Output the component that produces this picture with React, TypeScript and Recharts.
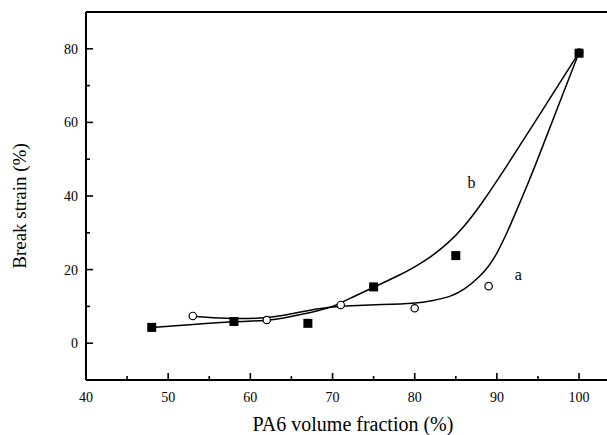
import React from 'react';
import { ComposedChart, Line, Scatter, XAxis, YAxis, ReferenceLine, Label } from 'recharts';

// measured points, series a (open circles) and b (filled squares)
const pa6A = [53, 62, 71, 80, 89, 100];
const strainA = [7.4, 6.3, 10.4, 9.5, 15.5, 79];
const pa6B = [48, 58, 67, 75, 85, 100];
const strainB = [4.3, 5.9, 5.4, 15.3, 23.8, 78.8];

// fitted curves
const curveAX = [53, 55.5, 58, 62, 64, 66.4, 68, 70, 72, 76, 80, 82.3, 84.3, 86, 88, 89, 90, 91.2, 92.4, 93.6, 94.8, 96, 98, 100];
const curveAY = [7.3, 6.9, 6.6, 6.8, 7.5, 8.6, 9.3, 9.9, 10.2, 10.5, 10.8, 11.6, 12.6, 14.4, 18.3, 20.8, 24.3, 29.8, 36.1, 42.4, 49.0, 56, 67.5, 79];
const curveBX = [48, 53, 58, 62, 64, 66.4, 68, 70, 72.5, 75, 78, 80, 82, 84, 86, 88, 91, 95.2, 100];
const curveBY = [4.3, 5.1, 5.9, 6.1, 6.8, 7.9, 8.7, 9.8, 12.6, 15.2, 18.3, 20.7, 23.5, 27.0, 31.6, 37.4, 47.4, 62.1, 79];

// curve tags
const tagText = ['a', 'b'];
const tagX = [92.6, 86.9];
const tagY = [18.5, 43.5];

const xTicks = [40, 45, 50, 55, 60, 65, 70, 75, 80, 85, 90, 95, 100];
const yTicks = [0, 10, 20, 30, 40, 50, 60, 70, 80];

const W = 607;
const H = 435;
const Y_AXIS_W = 86;
const X_AXIS_H = 55;
const TOP = 12;
const PLOT_LEFT = Y_AXIS_W;
const PLOT_BOTTOM = H - X_AXIS_H;
const FONT = '"Liberation Serif", "Times New Roman", serif';

const zip = (xs: number[], ys: number[]) => xs.map((x, i) => ({ x, y: ys[i] }));
const pointsA = zip(pa6A, strainA);
const pointsB = zip(pa6B, strainB);
const lineA = zip(curveAX, curveAY);
const lineB = zip(curveBX, curveBY);
const tags = tagText.map((t, i) => ({ x: tagX[i], y: tagY[i], t }));

function XTick({ x, payload }: any) {
  const major = payload.value % 10 === 0;
  return (
    <g>
      <line x1={x} x2={x} y1={PLOT_BOTTOM} y2={PLOT_BOTTOM - (major ? 7 : 4)} stroke="#000" strokeWidth={1.6} />
      {major && (
        <text x={x} y={PLOT_BOTTOM + 22} textAnchor="middle" fontSize={14} fontFamily={FONT} fill="#000">
          {payload.value}
        </text>
      )}
    </g>
  );
}

function YTick({ y, payload }: any) {
  const major = payload.value % 20 === 0;
  return (
    <g>
      <line x1={PLOT_LEFT} x2={PLOT_LEFT + (major ? 7 : 4)} y1={y} y2={y} stroke="#000" strokeWidth={1.6} />
      {major && (
        <text x={PLOT_LEFT - 8} y={y + 5} textAnchor="end" fontSize={14} fontFamily={FONT} fill="#000">
          {payload.value}
        </text>
      )}
    </g>
  );
}

const square = (p: any) => <rect x={p.cx - 4.5} y={p.cy - 4.5} width={9} height={9} fill="#000" />;
const circle = (p: any) => <circle cx={p.cx} cy={p.cy} r={3.7} fill="#fff" stroke="#000" strokeWidth={1.2} />;
const tagShape = (p: any) => (
  <text x={p.cx} y={p.cy + 5} textAnchor="middle" fontSize={16} fontFamily={FONT} fill="#000">
    {p.payload.t}
  </text>
);

export default function App() {
  return (
    <div style={{ position: 'absolute', left: 0, top: 0, background: '#fff' }}>
      <ComposedChart width={W} height={H} margin={{ top: TOP, right: 0, left: 0, bottom: 0 }}>
        <XAxis
          type="number"
          dataKey="x"
          domain={[40, 103.4]}
          ticks={xTicks}
          interval={0}
          allowDataOverflow
          height={X_AXIS_H}
          axisLine={{ stroke: '#000', strokeWidth: 2 }}
          tickLine={false}
          tickSize={0}
          tick={<XTick />}
        >
          <Label
            content={() => (
              <text x={353} y={431} textAnchor="middle" fontSize={20} fontFamily={FONT} fill="#000">
                PA6 volume fraction (%)
              </text>
            )}
          />
        </XAxis>
        <YAxis
          type="number"
          dataKey="y"
          domain={[-10, 90]}
          ticks={yTicks}
          interval={0}
          allowDataOverflow
          width={Y_AXIS_W}
          axisLine={{ stroke: '#000', strokeWidth: 2 }}
          tickLine={false}
          tickSize={0}
          tick={<YTick />}
        >
          <Label
            content={() => (
              <text
                x={26}
                y={206}
                transform="rotate(-90, 26, 206)"
                textAnchor="middle"
                fontSize={19}
                fontFamily={FONT}
                fill="#000"
              >
                Break strain (%)
              </text>
            )}
          />
        </YAxis>
        <ReferenceLine y={90} stroke="#000" strokeWidth={2} />
        <Line data={lineA} dataKey="y" type="basis" stroke="#000" strokeWidth={1.5} dot={false} isAnimationActive={false} />
        <Line data={lineB} dataKey="y" type="basis" stroke="#000" strokeWidth={1.5} dot={false} isAnimationActive={false} />
        <Scatter data={pointsA} dataKey="y" shape={circle} isAnimationActive={false} />
        <Scatter data={pointsB} dataKey="y" shape={square} isAnimationActive={false} />
        <Scatter data={tags} dataKey="y" shape={tagShape} isAnimationActive={false} />
      </ComposedChart>
    </div>
  );
}
